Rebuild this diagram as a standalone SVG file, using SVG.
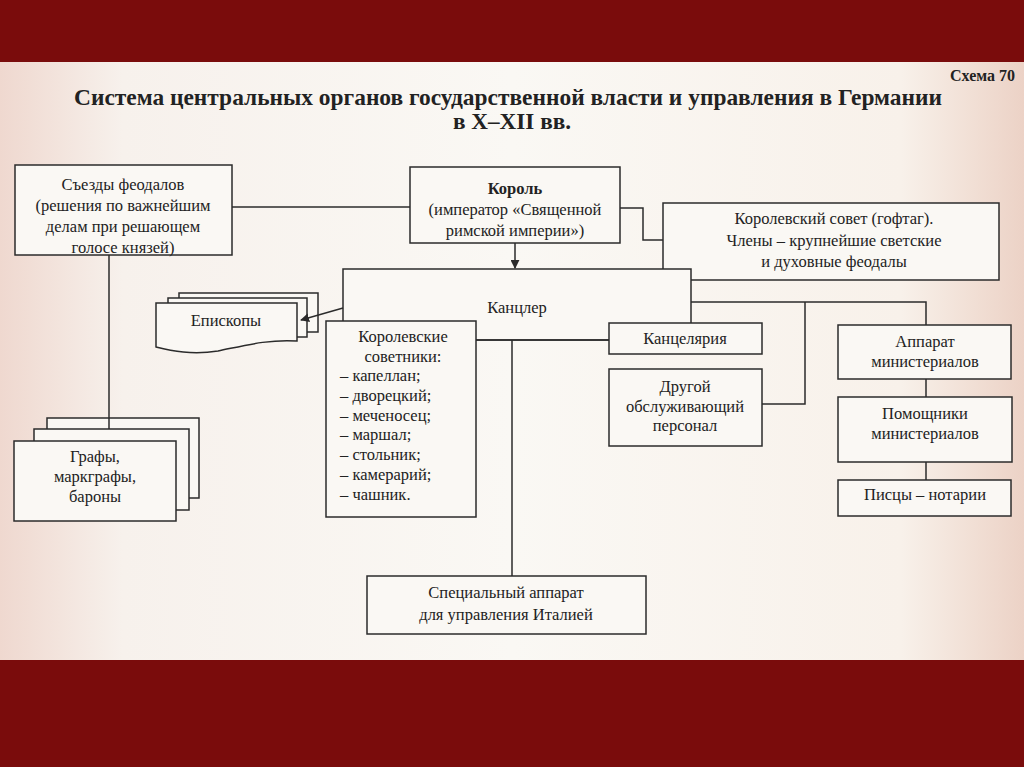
<svg xmlns="http://www.w3.org/2000/svg" width="1024" height="767" viewBox="0 0 1024 767">
<style>
.box{fill:#faf8f4;stroke:#2b2b2b;stroke-width:1.5}
.ln{fill:none;stroke:#2b2b2b;stroke-width:1.5}
.t{font-family:"Liberation Serif","Times New Roman",serif;font-size:16.5px;fill:#222;text-anchor:middle}
.tl{font-family:"Liberation Serif","Times New Roman",serif;font-size:16.5px;fill:#222}
.b{font-weight:bold}
</style>
<defs>
<linearGradient id="paper" x1="0" y1="0" x2="1" y2="0">
<stop offset="0" stop-color="#efd8cf"/>
<stop offset="0.12" stop-color="#f7f1ec"/>
<stop offset="0.5" stop-color="#faf8f4"/>
<stop offset="0.88" stop-color="#f8f1ea"/>
<stop offset="1" stop-color="#ecd2c6"/>
</linearGradient>
<marker id="arr" viewBox="0 0 10 10" refX="9" refY="5" markerWidth="9" markerHeight="9" orient="auto" markerUnits="userSpaceOnUse">
<path d="M0,0 L10,5 L0,10 Z" fill="#2b2b2b"/>
</marker>
</defs>
<rect x="0" y="0" width="1024" height="767" fill="#7a0c0c"/>
<rect x="0" y="62" width="1024" height="598" fill="url(#paper)"/>

<g id="title">
<text x="508" y="105" font-family="Liberation Serif, serif" font-weight="bold" font-size="24" fill="#222" text-anchor="middle" textLength="868" lengthAdjust="spacingAndGlyphs">Система центральных органов государственной власти и управления в Германии</text>
<text x="512" y="129" font-family="Liberation Serif, serif" font-weight="bold" font-size="24" fill="#222" text-anchor="middle" textLength="118" lengthAdjust="spacingAndGlyphs">в X–XII вв.</text>
<text x="950" y="81" font-family="Liberation Serif, serif" font-weight="bold" font-size="16" fill="#222">Схема 70</text>
</g>

<g id="s-ezdy">
<rect class="box" x="15" y="165" width="217" height="90"/>
<text class="t" x="123" y="190">Съезды феодалов</text>
<text class="t" x="123" y="211">(решения по важнейшим</text>
<text class="t" x="123" y="232">делам при решающем</text>
<text class="t" x="123" y="253">голосе князей)</text>
</g>

<g id="korol">
<rect class="box" x="410" y="167" width="210" height="76"/>
<text class="t b" x="515" y="194" font-size="17.5">Король</text>
<text class="t" x="515" y="215">(император «Священной</text>
<text class="t" x="515" y="236">римской империи»)</text>
</g>

<g id="sovet">
<rect class="box" x="663" y="203" width="336" height="77"/>
<text class="t" x="834" y="224">Королевский совет (гофтаг).</text>
<text class="t" x="834" y="246">Члены –  крупнейшие светские</text>
<text class="t" x="834" y="267">и духовные феодалы</text>
</g>

<g id="kancler">
<rect class="box" x="343" y="269" width="348" height="71"/>
<text class="t" x="517" y="313">Канцлер</text>
</g>

<g id="episkopy">
<rect class="box" x="179" y="293" width="139" height="39"/>
<rect class="box" x="168" y="298" width="139" height="39"/>
<path class="box" d="M156,303 H297 V341 C268,339 243,346 218,351 C192,355 172,351 156,347 Z"/>
<text class="t" x="226" y="326">Епископы</text>
</g>

<g id="grafy">
<rect class="box" x="47" y="418" width="152" height="80"/>
<rect class="box" x="34" y="429" width="155" height="81"/>
<rect class="box" x="14" y="441" width="162" height="80"/>
<text class="t" x="95" y="462">Графы,</text>
<text class="t" x="95" y="482">маркграфы,</text>
<text class="t" x="95" y="502">бароны</text>
</g>

<g id="sovetniki">
<rect class="box" x="326" y="321" width="150" height="196"/>
<text class="t" x="403" y="342">Королевские</text>
<text class="t" x="403" y="362">советники:</text>
<text class="tl" x="340" y="381">–  капеллан;</text>
<text class="tl" x="340" y="401">–  дворецкий;</text>
<text class="tl" x="340" y="421">–  меченосец;</text>
<text class="tl" x="340" y="440">–  маршал;</text>
<text class="tl" x="340" y="460">–  стольник;</text>
<text class="tl" x="340" y="480">–  камерарий;</text>
<text class="tl" x="340" y="500">–  чашник.</text>
</g>

<g id="kancelyariya">
<rect class="box" x="609" y="323" width="153" height="31"/>
<text class="t" x="685" y="344">Канцелярия</text>
</g>

<g id="drugoy">
<rect class="box" x="609" y="369" width="153" height="77"/>
<text class="t" x="685" y="392">Другой</text>
<text class="t" x="685" y="412">обслуживающий</text>
<text class="t" x="685" y="431">персонал</text>
</g>

<g id="apparat">
<rect class="box" x="838" y="325" width="173" height="54"/>
<text class="t" x="925" y="347">Аппарат</text>
<text class="t" x="925" y="367">министериалов</text>
</g>

<g id="pomoshchniki">
<rect class="box" x="838" y="397" width="174" height="65"/>
<text class="t" x="925" y="419">Помощники</text>
<text class="t" x="925" y="439">министериалов</text>
</g>

<g id="pistsy">
<rect class="box" x="838" y="480" width="173" height="36"/>
<text class="t" x="925" y="500">Писцы – нотарии</text>
</g>

<g id="italiya">
<rect class="box" x="367" y="576" width="279" height="58"/>
<text class="t" x="506" y="598">Специальный аппарат</text>
<text class="t" x="506" y="620">для управления Италией</text>
</g>

<g id="connectors">
<line class="ln" x1="232" y1="207" x2="410" y2="207"/>
<polyline class="ln" points="620,208 643,208 643,240 663,240"/>
<line class="ln" x1="109" y1="255" x2="109" y2="429"/>
<line class="ln" x1="515" y1="243" x2="515" y2="268" marker-end="url(#arr)"/>
<line class="ln" x1="343" y1="308" x2="301" y2="320" marker-end="url(#arr)"/>
<line class="ln" x1="476" y1="340" x2="609" y2="340"/>
<line class="ln" x1="512" y1="340" x2="512" y2="576"/>
<polyline class="ln" points="691,302 926,302 926,325"/>
<polyline class="ln" points="805,302 805,404 762,404"/>
<line class="ln" x1="926" y1="379" x2="926" y2="397"/>
<line class="ln" x1="926" y1="462" x2="926" y2="480"/>
</g>
</svg>
